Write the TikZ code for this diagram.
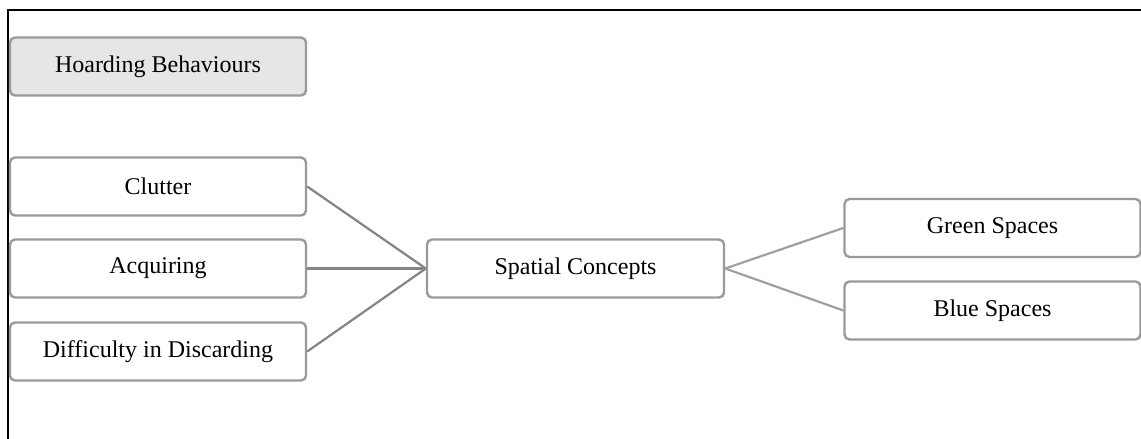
\documentclass[tikz,border=0pt]{standalone}
\usepackage{fontspec}
\setmainfont{Liberation Serif}
\begin{document}
\begin{tikzpicture}[x=1pt,y=-1pt,
  box/.style={draw=boxgray,line width=2.4pt,rounded corners=5pt,fill=white,
    minimum width=296pt,minimum height=58pt,inner sep=0pt,
    font=\fontsize{24}{28}\selectfont,text=black},
  head/.style={box,fill=headfill},
  linkL/.style={draw=linkdark,line width=2.2pt},
  linkR/.style={draw=linklight,line width=2.2pt}]
\definecolor{boxgray}{HTML}{9A9A9A}
\definecolor{headfill}{HTML}{E6E6E6}
\definecolor{linkdark}{HTML}{858585}
\definecolor{linklight}{HTML}{A0A0A0}
\useasboundingbox (0,0) rectangle (1141,439);
\fill[white] (0,0) rectangle (1141,439);
\draw[black,line width=1.6pt] (8,439) -- (8,10) -- (1141,10);
\node[head] (hb) at (158,66.5) {Hoarding Behaviours};
\node[box] (cl) at (158,186.5) {Clutter};
\node[box] (ac) at (158,268.5) {Acquiring};
\node[box] (di) at (158,351.5) {Difficulty in Discarding};
\node[box,minimum width=297pt] (sc) at (575.5,268.5) {Spatial Concepts};
\node[box] (gs) at (992.5,228) {Green Spaces};
\node[box] (bs) at (992.5,310.5) {Blue Spaces};
\draw[linkL] (cl.east) -- (sc.west);
\draw[linkL] (ac.east) -- (sc.west);
\draw[linkL] (di.east) -- (sc.west);
\draw[linkR] (sc.east) -- (gs.west);
\draw[linkR] (sc.east) -- (bs.west);
\end{tikzpicture}
\end{document}
